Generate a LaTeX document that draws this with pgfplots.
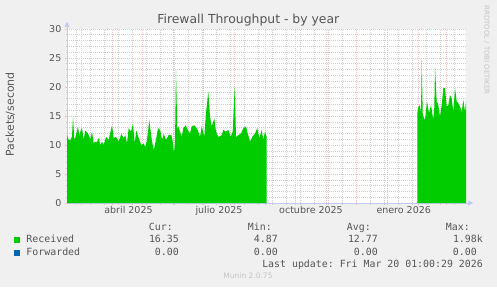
\documentclass[border=0pt]{standalone}
\usepackage{fontspec}
\setmainfont{DejaVu Sans}
\setmonofont{DejaVu Sans Mono}
\usepackage{pgfplots}
\pgfplotsset{compat=1.18}
\usetikzlibrary{arrows.meta}
\definecolor{bgc}{HTML}{F0F0F0}
\definecolor{rcv}{HTML}{00CC00}
\definecolor{fwd}{HTML}{0066B3}
\definecolor{txt}{HTML}{555555}
\definecolor{mgrid}{HTML}{F0C0C0}
\definecolor{ngrid}{HTML}{CDCDCD}
\definecolor{axc}{HTML}{C4C8F4}
\definecolor{faint}{HTML}{C4C4C4}
\begin{document}
\begin{tikzpicture}[x=1bp,y=1bp]
\path[use as bounding box, fill=bgc] (0,0) rectangle (497,287);
\begin{axis}[
  at={(67bp,84bp)}, anchor=south west,
  width=399bp, height=174bp, scale only axis,
  xmin=0, xmax=399, ymin=0, ymax=30,
  axis background/.style={fill=white},
  axis lines=left,
  axis line style={axc, line width=0.7bp},
  x axis line style={-{Triangle[width=5bp,length=5bp]}, shorten >=-7bp},
  y axis line style={-{Triangle[width=5bp,length=5bp]}, shorten >=-7bp},
  xtick={14.3,45.3,75.3,106.3,136.3,167.3,198.3,228.3,259.3,289.3,320.3,351.3,379.3},
  xticklabels={},
  minor xtick={9.3,23.3,37.3,51.3,65.3,79.3,93.3,107.3,121.3,135.3,149.3,163.3,177.3,191.3,205.3,219.3,233.3,247.3,261.3,275.3,289.3,303.3,317.3,331.3,345.3,359.3,373.3,387.3},
  extra x ticks={61.5,152,244,336.7},
  extra x tick labels={abril 2025, julio 2025, octubre 2025, enero 2026},
  extra x tick style={grid=none, major tick length=0pt},
  ytick={0,5,...,30},
  minor ytick={1,...,29},
  grid=both,
  major grid style={mgrid, dash pattern=on 1bp off 1bp, line width=0.6bp},
  minor grid style={ngrid, dash pattern=on 1bp off 1bp, line width=0.6bp},
  tick align=outside, major tick length=2bp, minor tick length=1.5bp,
  major tick style={mgrid, line width=0.6bp},
  minor tick style={ngrid, line width=0.6bp},
  ticklabel style={font=\fontsize{9.5bp}{11bp}\selectfont, text=txt, inner sep=0pt},
  xticklabel style={anchor=base, yshift=-10.5bp},
  yticklabel style={anchor=east, xshift=-3.5bp},
  /pgf/number format/assume math mode=true,
  clip=false,
]
\addplot[fill=rcv, draw=none] coordinates {
(0,11.7)(1.7,10.9)(3.3,10.8)(5,11.5)(6,14.9)(7.3,11.0)(8.3,11.2)(11,13.2)(12.3,11.5)(13.3,12.3)(15,12.9)(16.7,10.9)(18.3,12.5)(21,12.0)(23.3,11.0)(25,12.3)(26.7,10.3)(28.3,10.6)(30,10.5)(31.7,11.2)(33.3,10.0)(35,10.6)(36.7,10.0)(39,11.4)(41.7,10.9)(45,13.4)(46.7,11.2)(49,11.4)(51.7,10.6)(54.3,11.9)(56.7,11.2)(58.3,11.7)(60,10.3)(61.7,12.9)(64,12.3)(66,13.7)(67.7,10.3)(69.3,12.5)(71.7,11.2)(74.3,10.0)(76.7,10.3)(78.3,9.6)(80,10.9)(82.3,14.3)(84.3,11.4)(86.7,9.1)(89,10.9)(91,12.9)(93.3,12.5)(95,10.9)(96.7,11.9)(99,10.9)(101.7,11.7)(104.3,11.7)(105.5,10.9)(107,8.6)(108,10.5)(109,22.9)(110.3,12.6)(111.3,13.2)(113,12.3)(114.7,11.4)(116.3,12.9)(118.7,13.4)(120.7,12.6)(123,12.0)(124.7,13.2)(127.3,13.4)(129.7,12.9)(131.3,12.3)(133,11.4)(134.7,13.2)(137.3,11.4)(139,15.5)(141.3,19.2)(143,14.9)(144.7,13.2)(147.3,14.6)(149,12.3)(151.3,11.4)(154.7,11.7)(156.3,12.6)(159,12.3)(161.3,12.6)(163.7,11.4)(165.7,12.3)(167.7,20.1)(169,11.4)(171.3,11.7)(174,12.0)(176.3,12.9)(179,13.2)(180.7,12.0)(183,10.6)(185.3,11.4)(188,12.0)(190.3,12.9)(192.3,11.2)(194.7,12.6)(196.3,10.9)(198,12.3)(199.7,11.4)
} \closedcycle;
\addplot[fill=rcv, draw=none] coordinates {
(350.3,15.5)(351.3,16.5)(353,16.9)(354,15.5)(354.7,24.9)(355.7,15.5)(356.3,14.9)(358,14.3)(360,17.5)(362,15.5)(364,16.9)(366.3,14.3)(367.3,16.5)(368,23.5)(369.7,17.5)(371.3,16.9)(373,14.9)(374.7,16.9)(376.3,19.8)(378,19.8)(379.7,16.6)(381.3,16.9)(383,18.6)(384.7,18.0)(386.3,15.7)(388,19.8)(389.7,17.5)(391.3,17.2)(393,16.6)(394.7,15.7)(396.3,17.8)(398,15.7)(399,17.5)
} \closedcycle;
\end{axis}
% title and labels
\node[anchor=base, inner sep=0pt, text=txt, font=\fontsize{12.4bp}{14bp}\selectfont] at (248.3,263.7) {Firewall Throughput - by year};
\node[rotate=90, inner sep=0pt, text=txt, font=\fontsize{10.9bp}{12bp}\selectfont] at (10.3,172.6) {Packets/second};
\node[rotate=-90, inner sep=0pt, text=faint, font=\fontsize{6.9bp}{8bp}\selectfont] at (486.7,237) {RRDTOOL / TOBI OETIKER};
% legend
\begin{scope}[every node/.style={inner sep=0pt, text=txt, font=\fontsize{9.9bp}{11bp}\ttfamily}]
\node[anchor=base east] at (173,56.1) {Cur:};
\node[anchor=base east] at (272,56.1) {Min:};
\node[anchor=base east] at (371,56.1) {Avg:};
\node[anchor=base east] at (470,56.1) {Max:};
\node[anchor=base west] at (14,44.1) {\textcolor{rcv}{\rule[-0.4bp]{6bp}{6bp}}\hspace{6.3bp}Received};
\node[anchor=base east] at (179,44.1) {16.35};
\node[anchor=base east] at (278,44.1) {4.87};
\node[anchor=base east] at (378,44.1) {12.77};
\node[anchor=base east] at (483,44.1) {1.98k};
\node[anchor=base west] at (14,31.7) {\textcolor{fwd}{\rule[-0.4bp]{6bp}{6bp}}\hspace{6.3bp}Forwarded};
\node[anchor=base east] at (179,31.7) {0.00};
\node[anchor=base east] at (278,31.7) {0.00};
\node[anchor=base east] at (378,31.7) {0.00};
\node[anchor=base east] at (477,31.7) {0.00};
\node[anchor=base east] at (483,19.7) {Last update: Fri Mar 20 01:00:29 2026};
\end{scope}
\node[anchor=base, inner sep=0pt, text=faint, font=\fontsize{7.5bp}{9bp}\selectfont] at (248,8.3) {Munin 2.0.75};
\end{tikzpicture}
\end{document}
